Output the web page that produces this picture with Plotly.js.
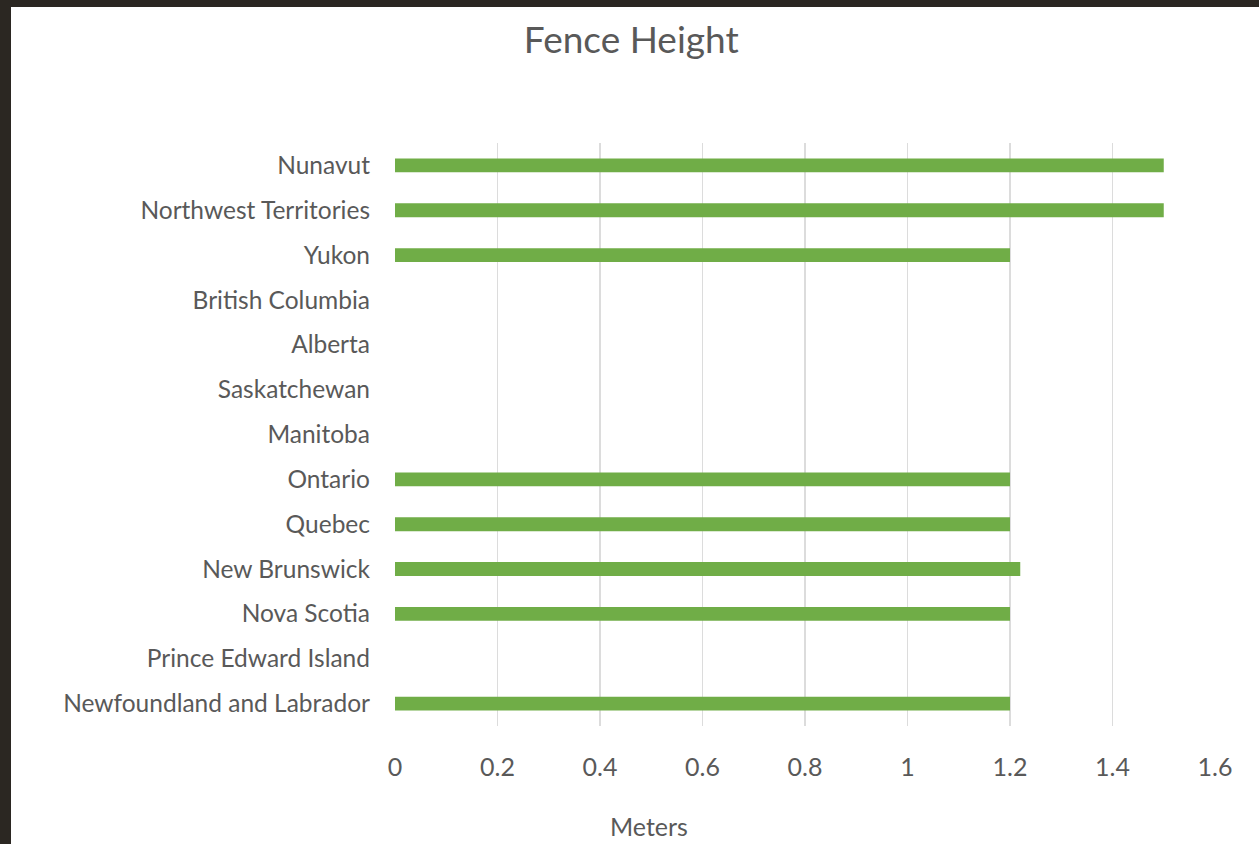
<!DOCTYPE html>
<html>
<head>
<meta charset="utf-8">
<script src="https://cdn.plot.ly/plotly-3.0.1.min.js"></script>
<style>
html,body{margin:0;padding:0;width:1259px;height:844px;overflow:hidden;background:#2b2722;}
#chart{position:absolute;left:11px;top:7px;width:1248px;height:837px;background:#fff;}
</style>
</head>
<body>
<div id="chart"></div>
<script>
const provinces = ["Newfoundland and Labrador","Prince Edward Island","Nova Scotia","New Brunswick","Quebec","Ontario","Manitoba","Saskatchewan","Alberta","British Columbia","Yukon","Northwest Territories","Nunavut"];
const heights = [1.2, null, 1.2, 1.22, 1.2, 1.2, null, null, null, null, 1.2, 1.5, 1.5];
const xTicks = [0,0.2,0.4,0.6,0.8,1,1.2,1.4,1.6];
const xTickText = ["0","0.2","0.4","0.6","0.8","1","1.2","1.4","1.6"];

const FONT = "Lato, 'Open Sans', sans-serif";
const trace = {
  type: "bar",
  orientation: "h",
  y: provinces,
  x: heights,
  marker: {color: "#70ad47"},
  width: 0.31,
  hoverinfo: "x+y"
};
const layout = {
  width: 1248, height: 837,
  paper_bgcolor: "#ffffff", plot_bgcolor: "#ffffff",
  margin: {l: 384, r: 44, t: 135.5, b: 117.5},
  title: {text: "Fence Height", font: {family: FONT, size: 37, color: "#595959"}, x: 0.497, xanchor: "center", y: 0.96, yanchor: "middle"},
  showlegend: false,
  xaxis: {
    range: [0, 1.6], tickvals: xTicks, ticktext: xTickText,
    showgrid: true, gridcolor: "#dcdcdc", gridwidth: 1.3,
    zeroline: false, showline: false, ticks: "",
    ticklabelstandoff: 24,
    tickfont: {family: FONT, size: 25, color: "#595959"},
    fixedrange: true
  },
  yaxis: {
    type: "category", categoryorder: "array", categoryarray: provinces,
    showgrid: false, zeroline: false, showline: false, ticks: "",
    ticklabelstandoff: 24,
    tickfont: {family: FONT, size: 24.5, color: "#595959"},
    fixedrange: true
  },
  annotations: [{
    text: "Meters", xref: "paper", yref: "paper", x: 0.31, y: -0.171,
    xanchor: "center", yanchor: "middle", showarrow: false, borderpad: 0,
    font: {family: FONT, size: 25, color: "#595959"}
  }],
  bargap: 0.69
};
Plotly.newPlot("chart", [trace], layout, {displayModeBar: false, staticPlot: true});
</script>
</body>
</html>
